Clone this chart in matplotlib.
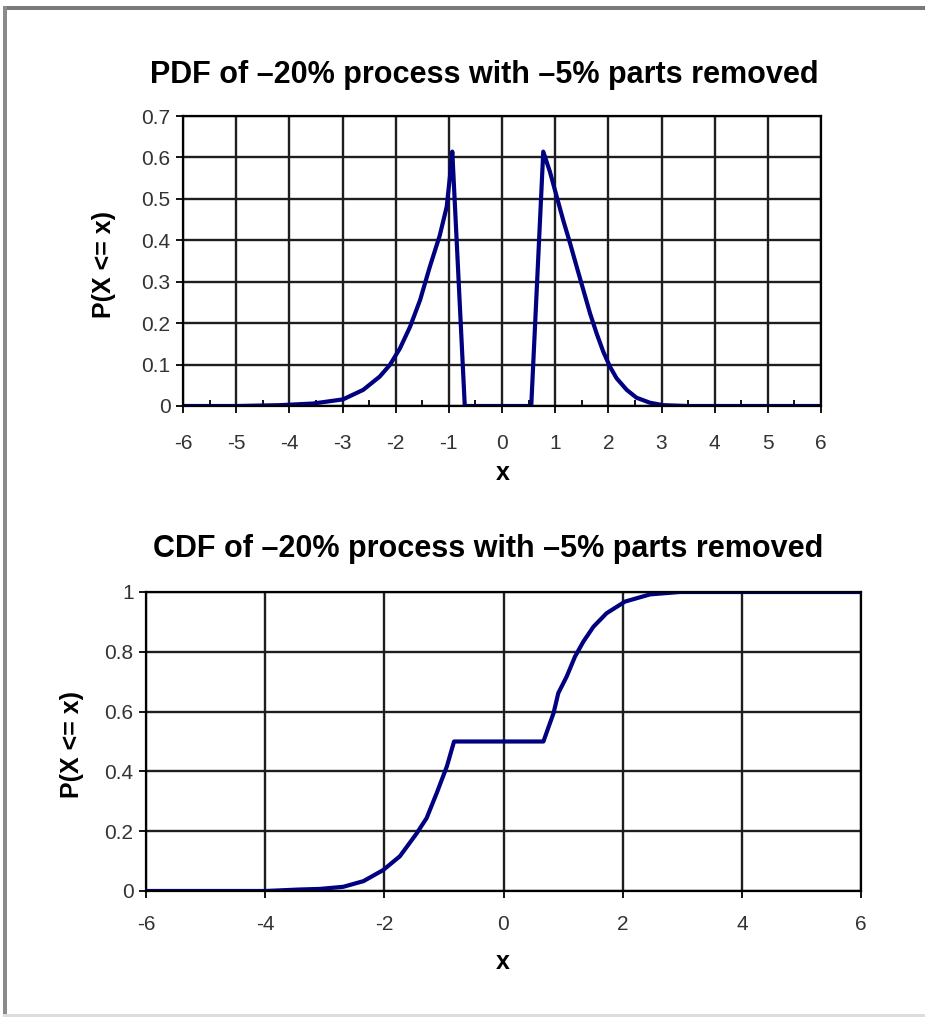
import matplotlib
matplotlib.use('Agg')
import matplotlib.pyplot as plt
from matplotlib.patches import Rectangle
from matplotlib.ticker import MultipleLocator, FormatStrFormatter

plt.rcParams['font.family'] = ['Liberation Sans', 'DejaVu Sans']
plt.rcParams['axes.unicode_minus'] = False

# PDF values
pdf_x = [-6, -5, -4.18, -3.55, -2.99, -2.61, -2.3, -2.11, -1.92, -1.73, -1.54,
         -1.36, -1.17, -1.04, -0.98, -0.935, -0.70, 0.55, 0.776, 0.90, 1.03,
         1.15, 1.28, 1.405, 1.53, 1.655, 1.78, 1.905, 2.03, 2.155, 2.345,
         2.53, 2.78, 3.03, 3.5, 4, 5, 6]
pdf_y = [0, 0, 0.002, 0.006, 0.016, 0.039, 0.071, 0.099, 0.139, 0.191, 0.256,
         0.335, 0.412, 0.481, 0.553, 0.614, 0, 0, 0.614, 0.566, 0.505,
         0.449, 0.393, 0.336, 0.28, 0.224, 0.175, 0.131, 0.095, 0.067, 0.039,
         0.020, 0.008, 0.002, 0, 0, 0, 0]

# CDF values
cdf_x = [-6, -4, -3.42, -3.08, -2.69, -2.35, -2.02, -1.74, -1.46, -1.29, -1.12,
         -0.95, -0.83, 0.67, 0.75, 0.84, 0.92, 1.06, 1.20, 1.34, 1.51, 1.73,
         2.04, 2.46, 2.96, 4, 6]
cdf_y = [0, 0, 0.005, 0.007, 0.014, 0.033, 0.07, 0.116, 0.192, 0.244, 0.328,
         0.417, 0.50, 0.50, 0.545, 0.595, 0.662, 0.717, 0.784, 0.834, 0.884, 0.929,
         0.968, 0.992, 1.0, 1.0, 1.0]

pdf_title = 'PDF of \u201320% process with \u20135% parts removed'
cdf_title = 'CDF of \u201320% process with \u20135% parts removed'

W, H = 925, 1017
fig = plt.figure(figsize=(W / 100, H / 100), dpi=100)

line_col = '#000080'
grid_col = '#1e1e1e'
tick_col = '#333333'


def fx(px):
    return px / W


def fy(py):
    return 1 - py / H


def style(ax, xpad):
    ax.grid(True, color=grid_col, linewidth=1.7)
    ax.set_axisbelow(True)
    for s in ax.spines.values():
        s.set_color('black')
        s.set_linewidth(1.6)
    ax.tick_params(axis='both', which='major', direction='out', length=5,
                   width=1.3, labelsize=15, labelcolor=tick_col, pad=4)
    ax.tick_params(axis='x', which='major', pad=xpad)


# top: PDF
ax1 = fig.add_axes([fx(183), fy(406), fx(821) - fx(183), fy(116) - fy(406)])
ax1.plot(pdf_x, pdf_y, color=line_col, linewidth=3.0, solid_joinstyle='round')
ax1.set_xlim(-6, 6)
ax1.set_ylim(0, 0.7)
ax1.xaxis.set_major_locator(MultipleLocator(1))
ax1.xaxis.set_minor_locator(MultipleLocator(0.5))
ax1.yaxis.set_major_locator(MultipleLocator(0.1))
ax1.yaxis.set_major_formatter(FormatStrFormatter('%g'))
style(ax1, 15)
ax1.tick_params(axis='x', which='minor', direction='in', length=4, width=1.3)
ax1.tick_params(axis='y', which='minor', left=False)

# bottom: CDF
ax2 = fig.add_axes([fx(146), fy(891), fx(861) - fx(146), fy(592) - fy(891)])
ax2.plot(cdf_x, cdf_y, color=line_col, linewidth=3.0, solid_joinstyle='round')
ax2.set_xlim(-6, 6)
ax2.set_ylim(0, 1)
ax2.xaxis.set_major_locator(MultipleLocator(2))
ax2.yaxis.set_major_locator(MultipleLocator(0.2))
ax2.yaxis.set_major_formatter(FormatStrFormatter('%g'))
style(ax2, 12)

# titles and axis labels
fig.text(fx(484), fy(75), pdf_title, ha='center', va='center',
         fontsize=22, fontweight='bold')
fig.text(fx(488), fy(549), cdf_title, ha='center', va='center',
         fontsize=22, fontweight='bold')
fig.text(fx(104), fy(264), 'P(X <= x)', ha='center', va='center', rotation=90,
         fontsize=18, fontweight='bold')
fig.text(fx(72), fy(744), 'P(X <= x)', ha='center', va='center', rotation=90,
         fontsize=18, fontweight='bold')
fig.text(fx(503), fy(473), 'x', ha='center', va='center', fontsize=18,
         fontweight='bold')
fig.text(fx(503), fy(962), 'x', ha='center', va='center', fontsize=18,
         fontweight='bold')

# frame around the picture
fig.add_artist(Rectangle((fx(3), fy(10)), 1, fy(6) - fy(10),
                         transform=fig.transFigure, color='#7a7a7a', lw=0))
fig.add_artist(Rectangle((fx(3), fy(1015)), fx(4) - fx(0), fy(6) - fy(1015),
                         transform=fig.transFigure, color='#8a8a8a', lw=0))
fig.add_artist(Rectangle((fx(3), fy(1017)), 1, fy(1014) - fy(1017),
                         transform=fig.transFigure, color='#dddddd', lw=0))

fig.savefig('out.png', dpi=100)
